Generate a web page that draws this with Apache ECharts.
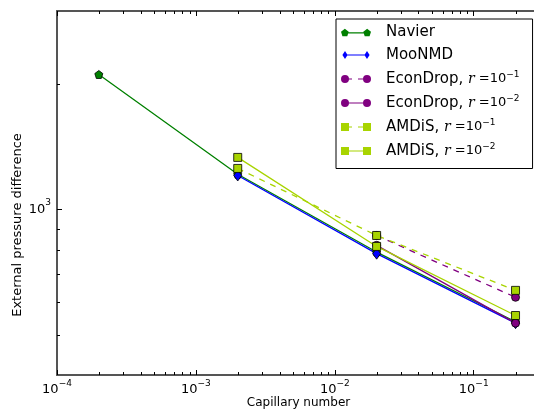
<!DOCTYPE html>
<html>
<head>
<meta charset="utf-8">
<script src="https://cdn.jsdelivr.net/npm/echarts@6/dist/echarts.min.js"></script>
<style>
html,body{margin:0;padding:0;background:#fff;}
#chart{width:534px;height:411px;}
</style>
</head>
<body>
<div id="chart"></div>
<script>
// ---- data ----
var seriesNames = ['Navier', 'MooNMD', 'EconDrop, r=10^-1', 'EconDrop, r=10^-2', 'AMDiS, r=10^-1', 'AMDiS, r=10^-2'];
var navierX = [2e-4, 2e-3, 2e-2, 2e-1];
var navierY = [2111, 1215, 790, 537];
var moonmdX = [2e-3, 2e-2, 2e-1];
var moonmdY = [1207, 783, 533];
var econ1X = [2e-2, 2e-1];
var econ1Y = [866, 615];
var econ2X = [2e-2, 2e-1];
var econ2Y = [820, 533];
var amdis1X = [2e-3, 2e-2, 2e-1];
var amdis1Y = [1255, 866, 639];
var amdis2X = [2e-3, 2e-2, 2e-1];
var amdis2Y = [1334, 815, 556];
var xMin = 1e-4, xMax = 0.3;
var yMin = 400, yMax = 3000;
var xMinorTicks = [2e-4,3e-4,4e-4,5e-4,6e-4,7e-4,8e-4,9e-4,2e-3,3e-3,4e-3,5e-3,6e-3,7e-3,8e-3,9e-3,2e-2,3e-2,4e-2,5e-2,6e-2,7e-2,8e-2,9e-2,2e-1];
var yMinorTicks = [500, 600, 700, 800, 900, 2000];
var xTitle = 'Capillary number';
var yTitle = 'External pressure difference';

function pairs(xs, ys) { return xs.map(function (x, i) { return [x, ys[i]]; }); }

var FONT = 'DejaVu Sans';
var AXIS_COLOR = '#555';
var GREEN = '#008000', BLUE = '#0000ff', PURPLE = '#800080', LIME = '#a8d400';

var pentagon = 'path://M0,-1 L0.951,-0.309 L0.588,0.809 L-0.588,0.809 L-0.951,-0.309 Z';
var thinDiamond = 'path://M0,-1 L0.6,0 L0,1 L-0.6,0 Z';

var iconCircleSolid = 'path://M0,4 A4,4 0 1,1 8,4 A4,4 0 1,1 0,4 Z M7,3.4 L23,3.4 L23,4.6 L7,4.6 Z M22,4 A4,4 0 1,1 30,4 A4,4 0 1,1 22,4 Z';
var iconCircleDash = 'path://M0,4 A4,4 0 1,1 8,4 A4,4 0 1,1 0,4 Z M7,3.4 L11,3.4 L11,4.6 L7,4.6 Z M17,3.4 L23,3.4 L23,4.6 L17,4.6 Z M22,4 A4,4 0 1,1 30,4 A4,4 0 1,1 22,4 Z';
var iconSquareSolid = 'path://M0,0 L8,0 L8,8 L0,8 Z M7,3.4 L23,3.4 L23,4.6 L7,4.6 Z M22,0 L30,0 L30,8 L22,8 Z';
var iconSquareDash = 'path://M0,0 L8,0 L8,8 L0,8 Z M7,3.4 L11,3.4 L11,4.6 L7,4.6 Z M17,3.4 L23,3.4 L23,4.6 L17,4.6 Z M22,0 L30,0 L30,8 L22,8 Z';
var iconPent = 'path://M4,0 L7.8,2.8 L6.4,7.2 L1.6,7.2 L0.2,2.8 Z M7,3.4 L23,3.4 L23,4.6 L7,4.6 Z M26,0 L29.8,2.8 L28.4,7.2 L23.6,7.2 L22.2,2.8 Z';
var iconDiam = 'path://M4,0 L6.6,4 L4,8 L1.4,4 Z M6,3.4 L24,3.4 L24,4.6 L6,4.6 Z M26,0 L28.6,4 L26,8 L23.4,4 Z';

var legendText = {};
legendText[seriesNames[0]] = '{t|Navier}';
legendText[seriesNames[1]] = '{t|MooNMD}';
legendText[seriesNames[2]] = '{t|EconDrop, }{r|r}{n| =10}{s|\u22121}';
legendText[seriesNames[3]] = '{t|EconDrop, }{r|r}{n| =10}{s|\u22122}';
legendText[seriesNames[4]] = '{t|AMDiS, }{r|r}{n| =10}{s|\u22121}';
legendText[seriesNames[5]] = '{t|AMDiS, }{r|r}{n| =10}{s|\u22122}';

function powLabel(v) {
  var e = Math.log10(v);
  var r = Math.round(e);
  if (Math.abs(e - r) > 1e-6) return '';
  return '{b|10}{e|' + (r < 0 ? '\u2212' + (-r) : r) + '}';
}
var powRich = {
  b: { fontFamily: FONT, fontSize: 13, color: '#000', lineHeight: 22 },
  e: { fontFamily: FONT, fontSize: 9, color: '#000', lineHeight: 10, verticalAlign: 'top' }
};

function lineSeries(name, data, color, symbol, size, dashed) {
  return {
    type: 'line', name: name, data: data,
    xAxisIndex: 0, yAxisIndex: 0,
    symbol: symbol, symbolSize: size, showAllSymbol: true,
    lineStyle: { color: color, width: 1.3, type: dashed ? [6, 6] : 'solid' },
    itemStyle: { color: color, borderColor: '#000', borderWidth: 0.8 },
    emphasis: { disabled: true },
    animation: false
  };
}

var TICK = { show: true, inside: true, length: 5, lineStyle: { color: '#000', width: 1 } };
var MINOR_LEN = 3;

var chart = echarts.init(document.getElementById('chart'), null, { renderer: 'canvas' });
var option = {
  backgroundColor: '#fff',
  animation: false,
  grid: { left: 57, top: 11, right: -6, bottom: 36, containLabel: false, outerBoundsMode: 'none' },
  xAxis: [{
    type: 'log', logBase: 10, min: xMin, max: xMax,
    name: xTitle, nameLocation: 'middle', nameGap: 22, nameMoveOverlap: false,
    nameTextStyle: { fontFamily: FONT, fontSize: 12, color: '#000' },
    axisLine: { show: true, lineStyle: { color: AXIS_COLOR, width: 2 } },
    axisTick: TICK,
    axisLabel: { showMinLabel: true, showMaxLabel: false, margin: 4, formatter: powLabel, rich: powRich },
    splitLine: { show: false }
  }, {
    type: 'log', logBase: 10, min: xMin, max: xMax, position: 'top', gridIndex: 0,
    axisLine: { show: true, lineStyle: { color: AXIS_COLOR, width: 2 } },
    axisTick: TICK,
    axisLabel: { show: false },
    splitLine: { show: false }
  }],
  yAxis: [{
    type: 'log', logBase: 10, min: yMin, max: yMax,
    name: yTitle, nameLocation: 'middle', nameGap: 33, nameRotate: 90, nameMoveOverlap: false,
    nameTextStyle: { fontFamily: FONT, fontSize: 13, color: '#000', padding: [0, 64, 0, 0] },
    axisLine: { show: true, lineStyle: { color: AXIS_COLOR, width: 2 } },
    axisTick: TICK,
    axisLabel: { showMinLabel: false, showMaxLabel: false, margin: 6, formatter: powLabel, rich: powRich },
    splitLine: { show: false }
  }],
  legend: {
    orient: 'vertical', left: 336, top: 19,
    padding: [6, 13, 10, 5], itemGap: 7.5,
    itemWidth: 30, itemHeight: 8,
    backgroundColor: '#fff', borderColor: '#000', borderWidth: 1, borderRadius: 0,
    itemStyle: { borderWidth: 0 },
    selectedMode: false,
    data: [
      { name: seriesNames[0], icon: iconPent },
      { name: seriesNames[1], icon: iconDiam },
      { name: seriesNames[2], icon: iconCircleDash },
      { name: seriesNames[3], icon: iconCircleSolid },
      { name: seriesNames[4], icon: iconSquareDash },
      { name: seriesNames[5], icon: iconSquareSolid }
    ],
    formatter: function (n) { return legendText[n]; },
    textStyle: {
      padding: [0, 0, 0, 10],
      rich: {
        t: { fontFamily: FONT, fontSize: 15, color: '#000', lineHeight: 18 },
        r: { fontFamily: 'DejaVu Serif', fontStyle: 'italic', fontSize: 14, color: '#000', lineHeight: 18 },
        n: { fontFamily: FONT, fontSize: 13, color: '#000', lineHeight: 18 },
        s: { fontFamily: FONT, fontSize: 9, color: '#000', lineHeight: 10, verticalAlign: 'top' }
      }
    }
  },
  series: [
    lineSeries(seriesNames[0], pairs(navierX, navierY), GREEN, pentagon, 8, false),
    lineSeries(seriesNames[1], pairs(moonmdX, moonmdY), BLUE, thinDiamond, [8, 11], false),
    lineSeries(seriesNames[2], pairs(econ1X, econ1Y), PURPLE, 'circle', 8, true),
    lineSeries(seriesNames[3], pairs(econ2X, econ2Y), PURPLE, 'circle', 8, false),
    lineSeries(seriesNames[4], pairs(amdis1X, amdis1Y), LIME, 'rect', 8, true),
    lineSeries(seriesNames[5], pairs(amdis2X, amdis2Y), LIME, 'rect', 8, false),
    {
      type: 'custom', name: 'xminor', xAxisIndex: 0, yAxisIndex: 0, silent: true, clip: false, z: 10,
      data: xMinorTicks.map(function (v) { return [v, 1000]; }),
      renderItem: function (params, api) {
        var cs = params.coordSys;
        var x = Math.round(api.coord([api.value(0), 1000])[0]) + 0.5;
        var st = { stroke: '#000', lineWidth: 1 };
        return { type: 'group', children: [
          { type: 'line', shape: { x1: x, y1: cs.y + cs.height, x2: x, y2: cs.y + cs.height - MINOR_LEN }, style: st },
          { type: 'line', shape: { x1: x, y1: cs.y, x2: x, y2: cs.y + MINOR_LEN }, style: st }
        ] };
      }
    },
    {
      type: 'custom', name: 'yminor', xAxisIndex: 0, yAxisIndex: 0, silent: true, clip: false, z: 10,
      data: yMinorTicks.map(function (v) { return [1e-3, v]; }),
      renderItem: function (params, api) {
        var cs = params.coordSys;
        var y = Math.round(api.coord([1e-3, api.value(1)])[1]) + 0.5;
        var st = { stroke: '#000', lineWidth: 1 };
        return { type: 'line', shape: { x1: cs.x, y1: y, x2: cs.x + MINOR_LEN, y2: y }, style: st };
      }
    }
  ]
};
chart.setOption(option);
</script>
</body>
</html>
